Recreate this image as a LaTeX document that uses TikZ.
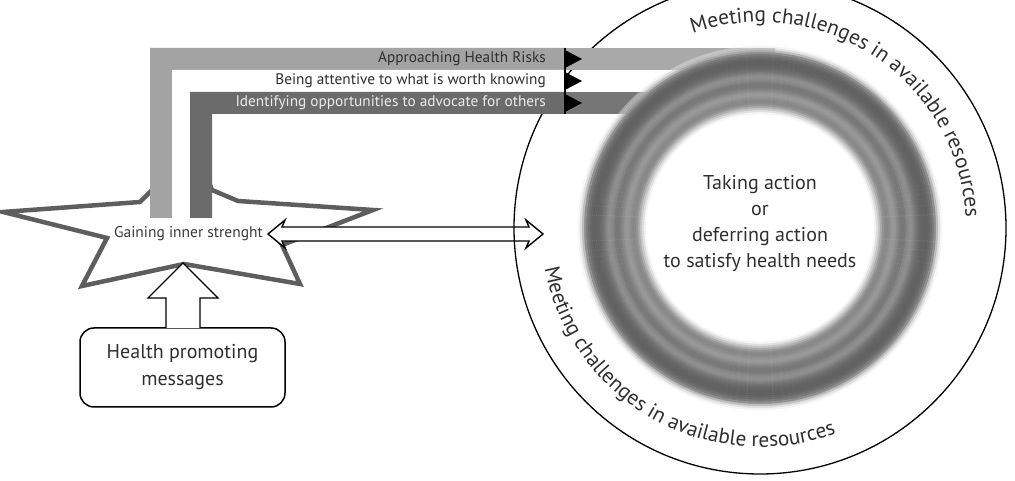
\documentclass[tikz,border=0pt]{standalone}
\usepackage{fontspec}
\setmainfont{PT Sans}
\usetikzlibrary{decorations.text}
\definecolor{lightband}{HTML}{A3A3A3}
\definecolor{lightbandR}{HTML}{A9A9A9}
\definecolor{darkband}{HTML}{6B6B6B}
\definecolor{darkbandR}{HTML}{767676}
\definecolor{txt}{HTML}{2F2F2F}
\definecolor{startxt}{HTML}{3A3A3A}
\definecolor{starline}{HTML}{5E5E5E}
\tikzset{
  starshape/.style={draw=starline, line width=4.5pt, fill=white, line join=miter},
  hollow/.style={draw=black, line width=1.4pt, fill=white, line join=miter},
  msgbox/.style={draw=black, line width=1.5pt, rounded corners=14pt, minimum width=205pt,
     minimum height=79pt, align=center, text=txt, font=\fontsize{20}{27}\selectfont},
  bandtext/.style={anchor=east, inner sep=0pt, font=\fontsize{15.3}{17}\selectfont},
  curvetext/.style={decorate, decoration={text along path, text align=center,
     text color=txt, text={|\fontsize{21.3}{23}\selectfont|Meeting challenges in available resources}}}
}
\begin{document}
\begin{tikzpicture}[x=1pt,y=1pt]
\useasboundingbox (0,0) rectangle (1015,481);
\clip (0,0) rectangle (1015,481);
% star
\draw[starshape] (3,269) -- (140,279) -- (152,291) -- (181,371) -- (212,291) -- (238,280)
   -- (373,271) -- (282,236) -- (300,197) -- (184,217) -- (82,195) -- (107,243) -- cycle;
\node[inner sep=0pt, text=startxt, font=\fontsize{15.5}{17}\selectfont] (gain) at (188.5,247) {Gaining inner strenght};
% box and up arrow
\node[msgbox] (msg) at (182.5,113.5) {Health promoting\\messages};
\coordinate (tipup) at (183,218);
\draw[hollow] (166,153) -- (166,183) -- (148,183) -- (tipup) -- (218,183) -- (200,183) -- (200,153);
% double arrow
\coordinate (dl) at (268,247);
\coordinate (dr) at (543,247);
\draw[hollow] (dl) -- (285,261) -- (282,254) -- (529,254) -- (526,261) -- (dr) -- (526,233)
   -- (529,240) -- (282,240) -- (285,233) -- cycle;
% big circle
\coordinate (cc) at (760,253);
\draw[line width=1.3pt] (cc) circle (246);
% bands
\fill[white] (150,263) rectangle (212,433);
\fill[lightband] (150,263) -- (150,433) -- (565,433) -- (565,411) -- (172,411) -- (172,263) -- cycle;
\fill[lightbandR] (565,433) rectangle (775,411);
\fill[white] (172,263) -- (172,411) -- (565,411) -- (565,389) -- (190,389) -- (190,263) -- cycle;
\fill[darkband] (190,263) -- (190,389) -- (565,389) -- (565,367) -- (212,367) -- (212,263) -- cycle;
\fill[darkbandR] (565,389) rectangle (690,367);
% ring
\foreach \r/\g in {115/4,117/12,119/22,121/32,123/41,125/46,127/47,129/45,131/42,133/40,135/41,
   137/45,139/49,141/52,143/53,145/52,147/48,149/45,151/44,153/46,155/51,157/55,159/58,
   161/60,163/61,165/62,167/62,169/60,171/57,173/52,175/44}{
  \draw[line width=2.4pt, draw=black!\g] (cc) circle (\r);
}
\draw[line width=2.4pt, draw=black!32, draw opacity=0.8] (cc) circle (177);
\draw[line width=2.4pt, draw=black!20, draw opacity=0.6] (cc) circle (179);
\draw[line width=2.4pt, draw=black!10, draw opacity=0.4] (cc) circle (181);
% arrow heads on bands
\draw[line width=1.8pt] (565,433) -- (565,367);
\fill (565,431) -- (582,422) -- (565,413) -- cycle;
\fill (565,409) -- (582,400) -- (565,391) -- cycle;
\fill (565,387) -- (582,378) -- (565,369) -- cycle;
% band texts
\node[bandtext, text=txt] (t1) at (546,422) {Approaching Health Risks};
\node[bandtext, text=txt] (t2) at (546,400) {Being attentive to what is worth knowing};
\node[bandtext, text=black!8] (t3) at (546,378) {Identifying opportunities to advocate for others};
% centre text
\node[align=center, text=txt, font=\fontsize{20}{25.7}\selectfont] (centre) at (760,257.5)
  {Taking action\\or\\deferring action\\to satisfy health needs};
% curved texts
\path[curvetext] (cc) ++(111:206) arc[start angle=111, end angle=1, radius=206];
\path[curvetext] (cc) ++(189:219) arc[start angle=189, end angle=292, radius=219];
\end{tikzpicture}
\end{document}
